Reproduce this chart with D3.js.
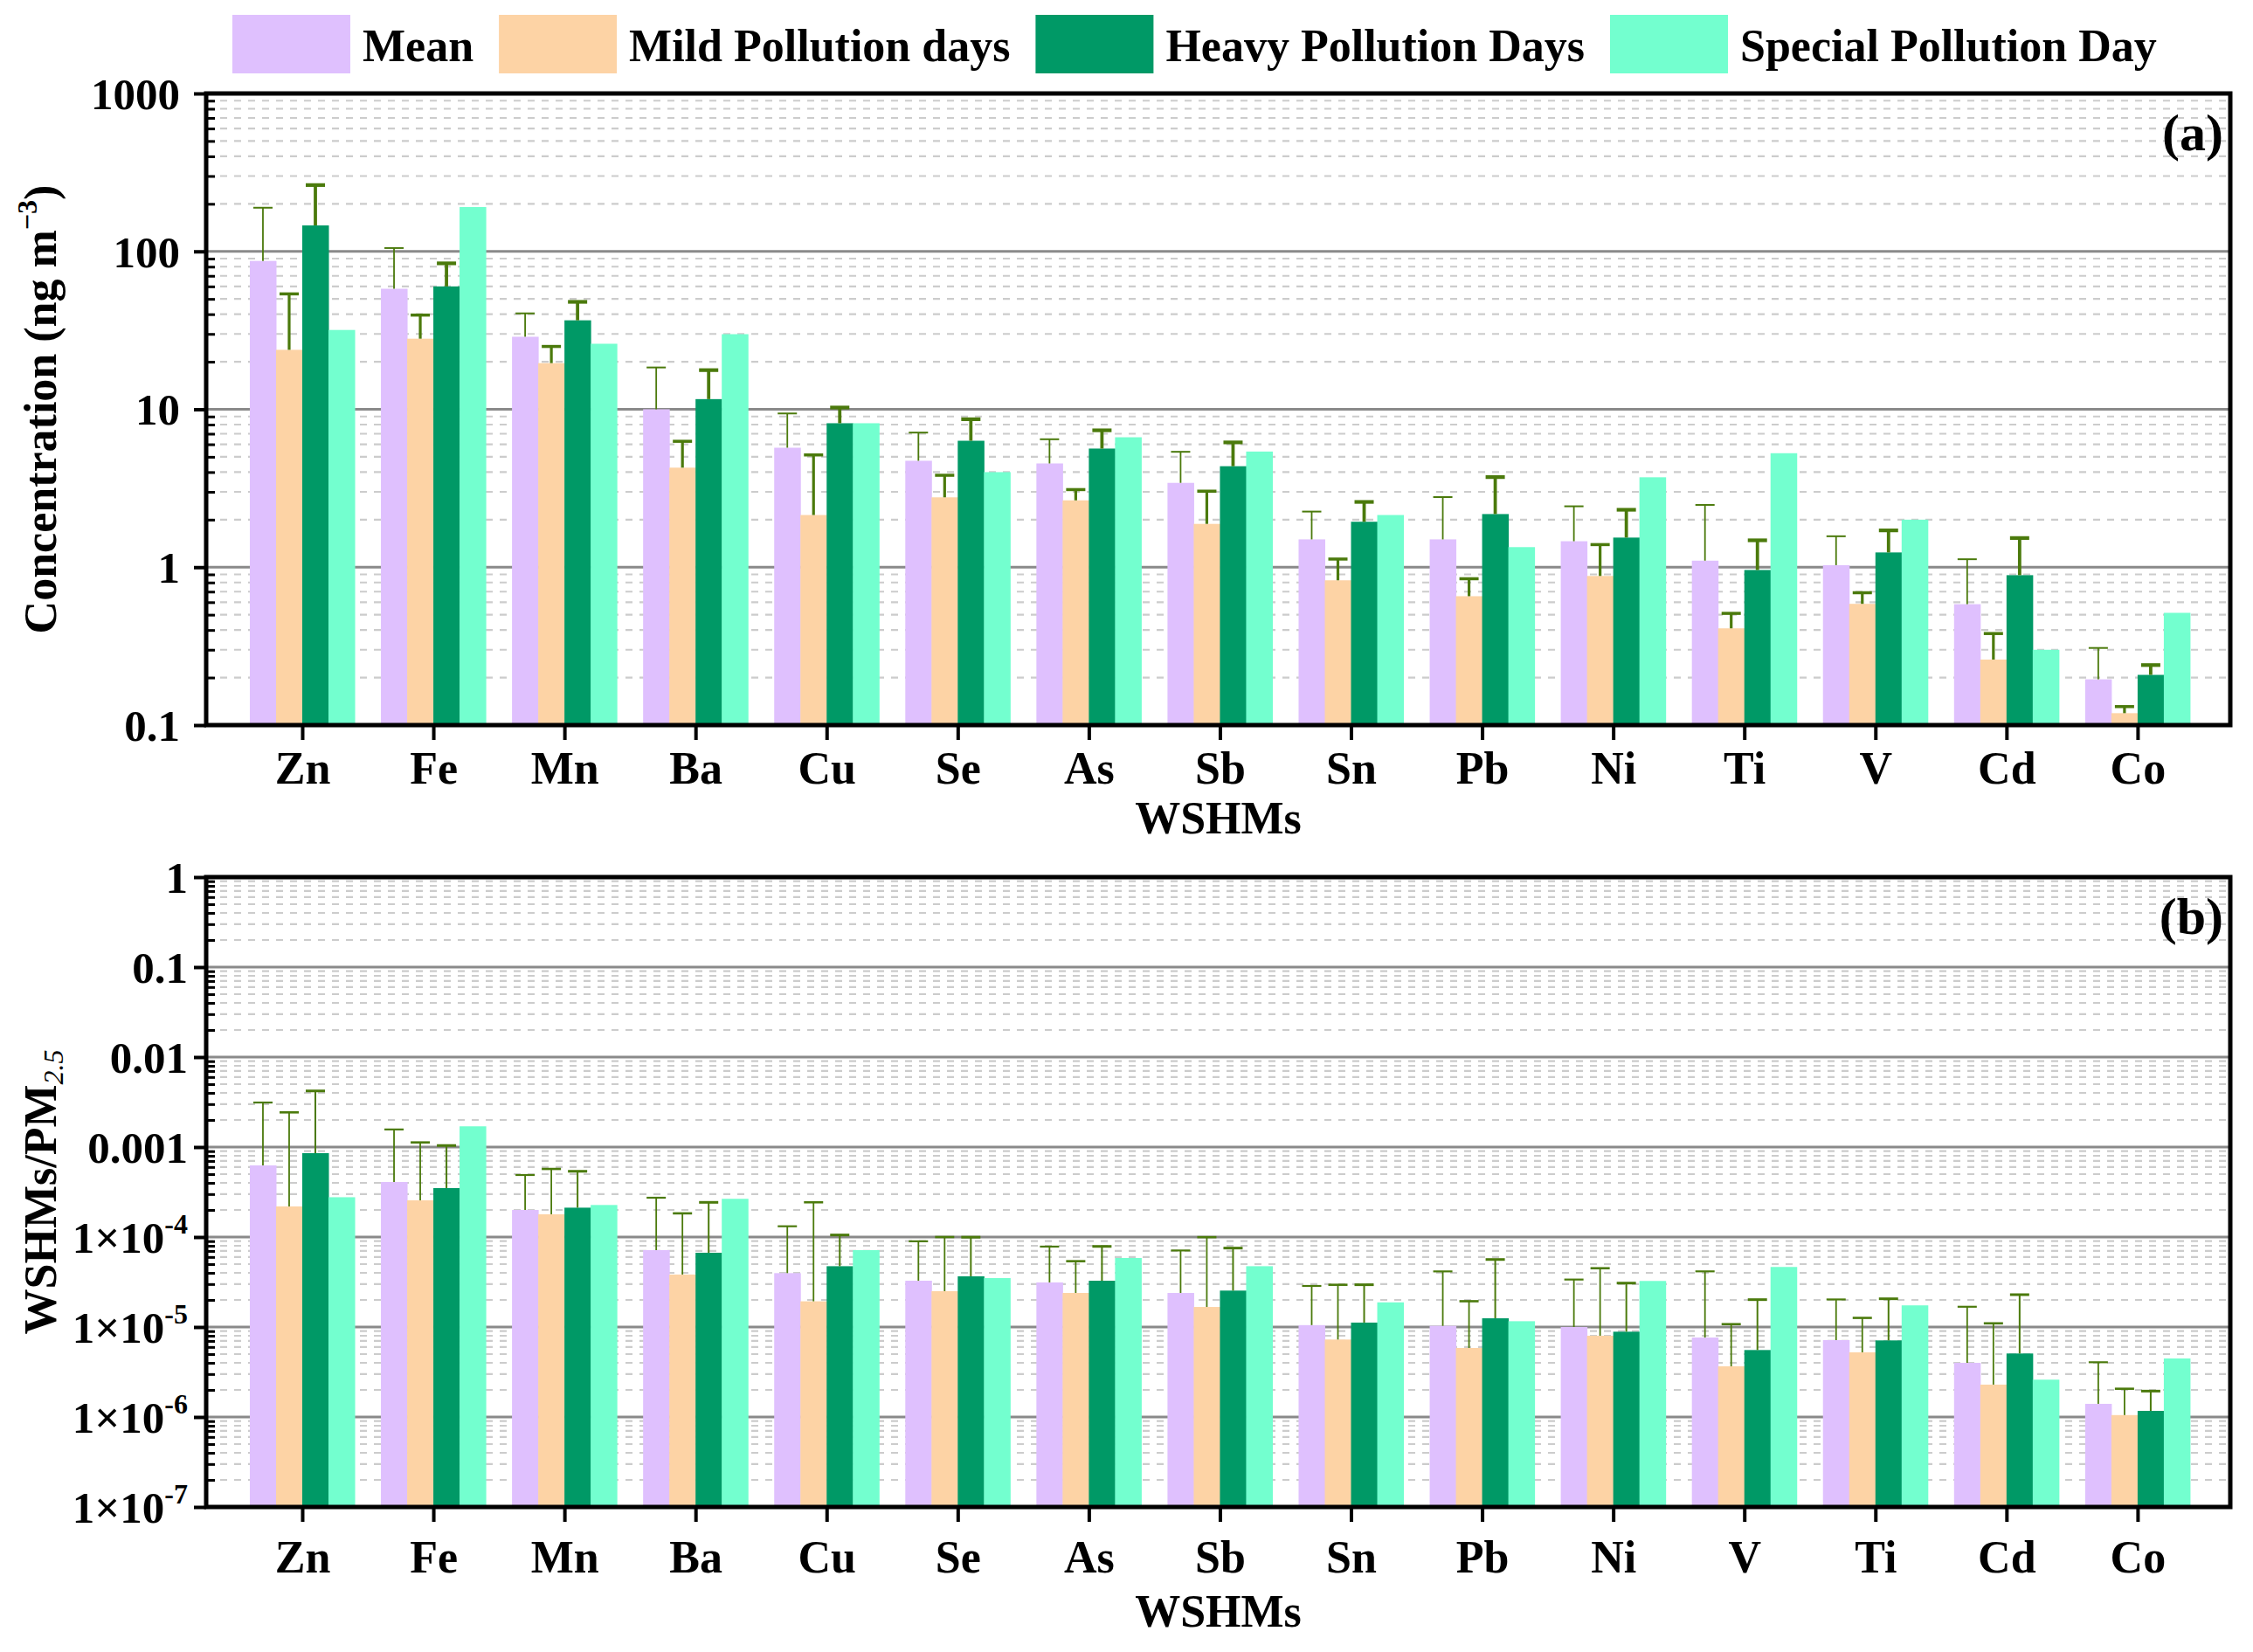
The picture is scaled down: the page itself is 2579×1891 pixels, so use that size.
<!DOCTYPE html>
<html>
<head>
<meta charset="utf-8">
<script src="https://cdn.jsdelivr.net/npm/d3@7"></script>
<style>
body { margin: 0; background: #fff; }
svg text { font-family: "Liberation Serif", "Times New Roman", serif; font-weight: bold; }
</style>
</head>
<body>
<svg id="chart" width="2579" height="1891"></svg>
<script>
// ---- data ----
var seriesNames = ['Mean', 'Mild Pollution days', 'Heavy Pollution Days', 'Special Pollution Day'];
var seriesColors = ['#DFC0FE', '#FDD3A5', '#009966', '#73FFCF'];

// panel (a): concentration, ng m-3
var catsA = ['Zn', 'Fe', 'Mn', 'Ba', 'Cu', 'Se', 'As', 'Sb', 'Sn', 'Pb', 'Ni', 'Ti', 'V', 'Cd', 'Co'];
var meanA    = [87, 58, 28.8, 10.0, 5.71, 4.72, 4.54, 3.42, 1.50, 1.50, 1.46, 1.10, 1.03, 0.583, 0.195];
var mildA    = [23.8, 28, 19.6, 4.27, 2.14, 2.77, 2.65, 1.88, 0.826, 0.655, 0.88, 0.41, 0.586, 0.26, 0.119];
var heavyA   = [146, 60, 36.6, 11.6, 8.16, 6.32, 5.64, 4.36, 1.94, 2.17, 1.54, 0.96, 1.24, 0.89, 0.208];
var specialA = [31.8, 191, 26, 29.9, 8.16, 4.0, 6.65, 5.4, 2.14, 1.34, 3.71, 5.27, 2.0, 0.30, 0.514];
var meanSdA  = [102, 47, 11.7, 8.4, 3.7, 2.4, 1.92, 1.96, 0.75, 1.28, 0.97, 1.38, 0.54, 0.54, 0.113];
var mildSdA  = [30, 11.5, 5.4, 2.0, 3.0, 1.05, 0.45, 1.15, 0.30, 0.19, 0.51, 0.10, 0.103, 0.12, 0.012];
var heavySdA = [117, 24, 11.3, 6.1, 2.1, 2.33, 1.72, 1.81, 0.65, 1.55, 0.77, 0.52, 0.47, 0.64, 0.032];
var tickValuesA = [0.1, 1, 10, 100, 1000];
var tickLabelsA = ['0.1', '1', '10', '100', '1000'];

// panel (b): WSHMs / PM2.5
var catsB = ['Zn', 'Fe', 'Mn', 'Ba', 'Cu', 'Se', 'As', 'Sb', 'Sn', 'Pb', 'Ni', 'V', 'Ti', 'Cd', 'Co'];
var meanB    = [6.25e-4, 4.09e-4, 2.0e-4, 7.15e-5, 3.97e-5, 3.27e-5, 3.13e-5, 2.39e-5, 1.05e-5, 1.03e-5, 1.0e-5, 7.64e-6, 7.15e-6, 4.0e-6, 1.4e-6];
var mildB    = [2.19e-4, 2.56e-4, 1.79e-4, 3.83e-5, 1.93e-5, 2.5e-5, 2.39e-5, 1.67e-5, 7.26e-6, 5.85e-6, 8.0e-6, 3.66e-6, 5.23e-6, 2.29e-6, 1.05e-6];
var heavyB   = [8.55e-4, 3.5e-4, 2.12e-4, 6.69e-5, 4.74e-5, 3.66e-5, 3.27e-5, 2.54e-5, 1.12e-5, 1.25e-5, 8.87e-6, 5.55e-6, 7.1e-6, 5.08e-6, 1.17e-6];
var specialB = [2.77e-4, 1.7e-3, 2.27e-4, 2.66e-4, 7.15e-5, 3.5e-5, 5.85e-5, 4.74e-5, 1.88e-5, 1.16e-5, 3.25e-5, 4.65e-5, 1.74e-5, 2.6e-6, 4.47e-6];
var meanSdB  = [2.5e-3, 1.16e-3, 2.89e-4, 2.02e-4, 9.2e-5, 5.7e-5, 4.7e-5, 4.7e-5, 1.81e-5, 3.12e-5, 2.37e-5, 3.39e-5, 1.31e-5, 1.28e-5, 2.66e-6];
var mildSdB  = [2.21e-3, 8.7e-4, 3.92e-4, 1.45e-4, 2.24e-4, 7.5e-5, 3.0e-5, 8.3e-5, 2.22e-5, 1.35e-5, 3.7e-5, 7.1e-6, 7.4e-6, 8.7e-6, 1.01e-6];
var heavySdB = [3.35e-3, 6.9e-4, 3.26e-4, 1.76e-4, 5.8e-5, 6.3e-5, 4.6e-5, 5.0e-5, 1.83e-5, 4.38e-5, 2.19e-5, 1.46e-5, 1.35e-5, 1.78e-5, 7.7e-7];
var tickValuesB = [1e-7, 1e-6, 1e-5, 1e-4, 1e-3, 1e-2, 1e-1, 1];
var tickLabelsB = ['1×10|-7', '1×10|-6', '1×10|-5', '1×10|-4', '0.001', '0.01', '0.1', '1'];

// ---- layout ----
var svg = d3.select('#chart');
var plotLeft = 236, plotRight = 2553;
var errColor = '#4B7A0C';
var gridMajor = '#8a8a8a';
var gridMinor = '#cccccc';

function drawPanel(p) {
    var g = svg.append('g');
    var x = d3.scaleLinear().domain([0.267, 15.707]).range([plotLeft, plotRight]);
    var y = d3.scaleLog().domain(p.domain).range([p.bottom, p.top]);
    var bw = x(0.2) - x(0);

    var lo = Math.round(Math.log10(p.domain[0])), hi = Math.round(Math.log10(p.domain[1]));
    var majors = [], minors = [];
    for (var e = lo; e < hi; e++) {
        for (var k = 1; k < 10; k++) {
            if (k == 1) majors.push(Math.pow(10, e));
            else minors.push(k * Math.pow(10, e));
        }
    }
    majors.push(Math.pow(10, hi));

    // grid
    g.append('g').selectAll('line').data(minors).enter().append('line')
        .attr('x1', plotLeft).attr('x2', plotRight)
        .attr('y1', function(d) { return y(d); }).attr('y2', function(d) { return y(d); })
        .attr('stroke', gridMinor).attr('stroke-width', 2.2).attr('stroke-dasharray', '8,8');
    g.append('g').selectAll('line').data(majors.slice(1, -1)).enter().append('line')
        .attr('x1', plotLeft).attr('x2', plotRight)
        .attr('y1', function(d) { return y(d); }).attr('y2', function(d) { return y(d); })
        .attr('stroke', gridMajor).attr('stroke-width', 3);

    // bars
    p.series.forEach(function(vals, s) {
        g.append('g').selectAll('rect').data(vals).enter().append('rect')
            .attr('x', function(d, i) { return x(i + 1 - 0.4 + 0.2 * s); })
            .attr('width', bw + 0.5)
            .attr('y', function(d) { return y(d); })
            .attr('height', function(d) { return p.bottom - y(d); })
            .attr('fill', seriesColors[s]);
    });

    // error bars (upper only)
    p.sds.forEach(function(sd, s) {
        var eg = g.append('g');
        var vals = p.series[s];
        sd.forEach(function(d, i) {
            var cx = x(i + 1 - 0.3 + 0.2 * s);
            var y0 = y(vals[i]), y1 = y(vals[i] + d);
            eg.append('line').attr('x1', cx).attr('x2', cx).attr('y1', y0).attr('y2', y1)
                .attr('stroke', errColor).attr('stroke-width', p.errW[s]);
            eg.append('line').attr('x1', cx - 11).attr('x2', cx + 11).attr('y1', y1).attr('y2', y1)
                .attr('stroke', errColor).attr('stroke-width', p.capW[s]);
        });
    });

    // frame
    g.append('rect').attr('x', plotLeft).attr('y', p.top)
        .attr('width', plotRight - plotLeft).attr('height', p.bottom - p.top)
        .attr('fill', 'none').attr('stroke', '#000').attr('stroke-width', 5);

    // left axis, major ticks + labels
    var ay = g.append('g').attr('transform', 'translate(' + plotLeft + ',0)')
        .call(d3.axisLeft(y).tickValues(p.tickValues).tickSize(14).tickSizeOuter(0).tickPadding(p.labelPad)
            .tickFormat(function(d, i) { return ''; }));
    ay.select('.domain').remove();
    ay.selectAll('.tick line').attr('stroke-width', 4);
    ay.attr('font-size', 51).attr('font-family', null);
    ay.selectAll('.tick text').each(function(d, i) {
        var parts = p.tickLabels[i].split('|');
        var t = d3.select(this).attr('dy', '0.34em');
        t.append('tspan').text(parts[0]);
        if (parts.length > 1) {
            t.append('tspan').attr('font-size', 32).attr('dy', -22).text(parts[1]);
        }
    });

    // left axis, minor ticks inward
    var amy = g.append('g').attr('transform', 'translate(' + plotLeft + ',0)')
        .call(d3.axisLeft(y).tickValues(minors).tickSize(-10).tickSizeOuter(0).tickFormat(''));
    amy.select('.domain').remove();
    amy.selectAll('.tick line').attr('stroke-width', 3);

    // bottom axis
    var ax = g.append('g').attr('transform', 'translate(0,' + p.bottom + ')')
        .call(d3.axisBottom(x).tickValues(d3.range(1, p.cats.length + 1)).tickSize(17).tickSizeOuter(0)
            .tickFormat(function(d) { return p.cats[d - 1]; }));
    ax.select('.domain').remove();
    ax.selectAll('.tick line').attr('stroke-width', 4);
    ax.attr('font-size', 52).attr('font-family', null);
    ax.selectAll('.tick text').attr('y', p.catOffset).attr('dy', 0);

    // x title
    g.append('text').attr('x', (plotLeft + plotRight) / 2).attr('y', p.bottom + p.titleOffset)
        .attr('text-anchor', 'middle').attr('font-size', 52).text('WSHMs');

    // panel letter
    g.append('text').attr('x', 2545).attr('y', p.letterY)
        .attr('text-anchor', 'end').attr('font-size', 60).text(p.letter);

    // y title
    var yt = g.append('text')
        .attr('transform', 'translate(64,' + ((p.top + p.bottom) / 2) + ') rotate(-90)')
        .attr('text-anchor', 'middle').attr('font-size', 52);
    p.yTitle(yt);
}

drawPanel({
    cats: catsA,
    series: [meanA, mildA, heavyA, specialA],
    sds: [meanSdA, mildSdA, heavySdA],
    domain: [0.1, 1000], top: 107, bottom: 830,
    tickValues: tickValuesA, tickLabels: tickLabelsA, labelPad: 16,
    errW: [1.8, 3.2, 3.8], capW: [2, 3.5, 4.2],
    catOffset: 67, titleOffset: 124, letter: '(a)', letterY: 172,
    yTitle: function(t) {
        t.append('tspan').text('Concentration (ng m');
        t.append('tspan').attr('font-size', 32).attr('dy', -22).text('\u22123');
        t.append('tspan').attr('dy', 22).text(')');
    }
});

drawPanel({
    cats: catsB,
    series: [meanB, mildB, heavyB, specialB],
    sds: [meanSdB, mildSdB, heavySdB],
    domain: [1e-7, 1], top: 1004, bottom: 1725,
    tickValues: tickValuesB, tickLabels: tickLabelsB, labelPad: 7,
    errW: [1.8, 1.8, 2], capW: [2.2, 2.6, 3],
    catOffset: 75, titleOffset: 137, letter: '(b)', letterY: 1069,
    yTitle: function(t) {
        t.append('tspan').text('WSHMs/PM');
        t.append('tspan').attr('font-size', 32).attr('font-style', 'italic').attr('font-weight', 'normal')
            .attr('dy', 8).text('2.5');
    }
});

// legend
var lg = svg.append('g');
var lx = 266;
seriesNames.forEach(function(name, i) {
    lg.append('rect').attr('x', lx).attr('y', 17).attr('width', 135).attr('height', 67)
        .attr('fill', seriesColors[i]);
    var t = lg.append('text').attr('x', lx + 149).attr('y', 70).attr('font-size', 52).text(name);
    lx += 149 + t.node().getComputedTextLength() + 29;
});
</script>
</body>
</html>
